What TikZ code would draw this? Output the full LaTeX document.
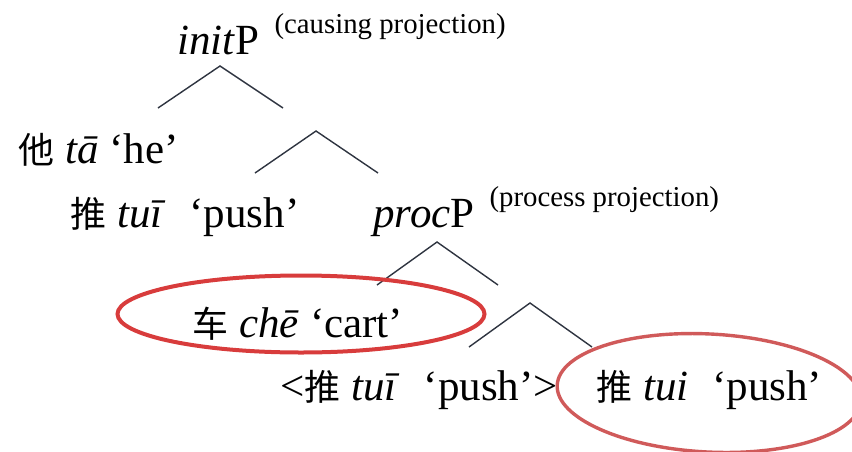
\documentclass[tikz,border=0pt]{standalone}
\usepackage{fontspec}
\setmainfont{Liberation Serif}
\newfontfamily\cjk{Noto Sans CJK SC}
\usepackage{tikz}
\usetikzlibrary{shapes.geometric}
\definecolor{treeline}{HTML}{2E3440}
\definecolor{ringred}{HTML}{D83C3C}
\definecolor{ringrose}{HTML}{D05A5A}
\newcommand{\zh}[1]{{\fontsize{18}{20}\selectfont\cjk #1}}
\newcommand{\projlabel}[1]{\hspace{7.5pt}\raisebox{10.5pt}{\fontsize{14.4}{16}\selectfont #1}}

\begin{document}
\begin{tikzpicture}[x=0.5pt,y=-0.5pt,
  word/.style={anchor=base west,inner sep=0pt,font=\fontsize{21.5}{24}\selectfont},
  branch/.style={draw=treeline,line width=0.7pt},
  ring/.style={ellipse,draw=ringred,line width=2pt,inner sep=0pt}]
  \useasboundingbox (0,0) rectangle (852,451);
  % labels of the tree
  \node[word] (initP) at (177,54) {\textit{init}P\projlabel{(causing projection)}};
  \node[word] (ta) at (18,163) {\zh{他} \textit{tā} ‘he’};
  \node[word] (tuiV) at (70,227) {\zh{推} \textit{tuī}\hspace{0.55em}‘push’};
  \node[word] (procP) at (373,227) {\textit{proc}P\projlabel{(process projection)}};
  \node[word] (che) at (192,337) {\zh{车} \textit{chē} ‘cart’};
  \node[word] (tuiCopy) at (280,400) {<\zh{推} \textit{tuī}\hspace{0.55em}‘push’>};
  \node[word] (tuiHead) at (596,400) {\zh{推} \textit{tui}\hspace{0.55em}‘push’};
  % branching points
  \coordinate (initTop) at (220,66);
  \coordinate (initL) at (158,108);
  \coordinate (initR) at (283,108);
  \coordinate (barTop) at (316,131);
  \coordinate (barL) at (255,173);
  \coordinate (barR) at (378,173);
  \coordinate (procTop) at (437,242);
  \coordinate (procL) at (377,285);
  \coordinate (procR) at (498,285);
  \coordinate (lowTop) at (530,303);
  \coordinate (lowL) at (469,347);
  \coordinate (lowR) at (592,347);
  \draw[branch] (initL) -- (initTop) -- (initR);
  \draw[branch] (barL) -- (barTop) -- (barR);
  \draw[branch] (procL) -- (procTop) -- (procR);
  \draw[branch] (lowL) -- (lowTop) -- (lowR);
  % the two marked constituents
  \node[ring,minimum width=183.5pt,minimum height=38.5pt] (cheRing) at (301,314) {};
  \node[ring,draw=ringrose,line width=1.7pt,minimum width=152pt,minimum height=59pt,
    rotate=-3] (tuiRing) at (709,393) {};
\end{tikzpicture}
\end{document}
